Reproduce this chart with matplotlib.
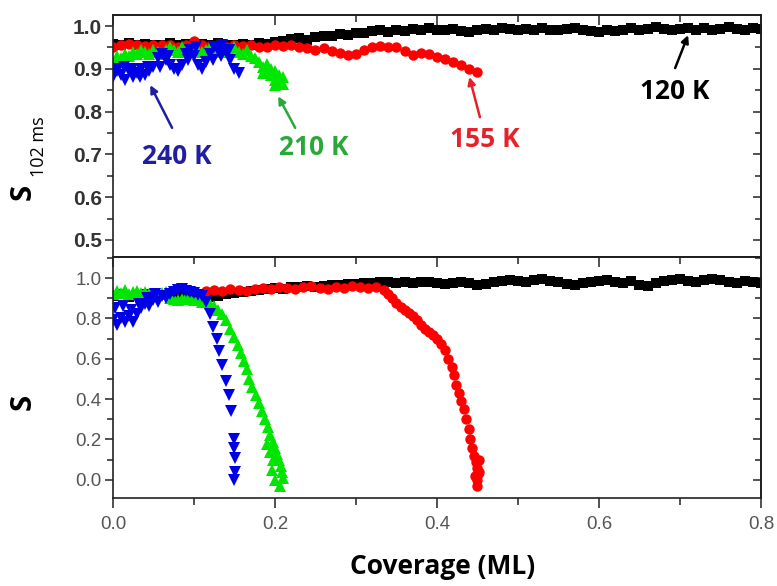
import matplotlib
matplotlib.use("Agg")
import matplotlib.pyplot as plt
from matplotlib.ticker import MultipleLocator

# ---- upper panel: S after 102 ms ----
cov_120_top = [
    0.00, 0.01, 0.02, 0.03, 0.04, 0.05, 0.06, 0.07, 0.08, 0.09,
    0.10, 0.11, 0.12, 0.13, 0.14, 0.15, 0.16, 0.17, 0.18, 0.19,
    0.20, 0.21, 0.22, 0.23, 0.24, 0.25, 0.26, 0.27, 0.28, 0.29,
    0.30, 0.31, 0.32, 0.33, 0.34, 0.35, 0.36, 0.37, 0.38, 0.39,
    0.40, 0.41, 0.42, 0.43, 0.44, 0.45, 0.46, 0.47, 0.48, 0.49,
    0.50, 0.51, 0.52, 0.53, 0.54, 0.55, 0.56, 0.57, 0.58, 0.59,
    0.60, 0.61, 0.62, 0.63, 0.64, 0.65, 0.66, 0.67, 0.68, 0.69,
    0.70, 0.71, 0.72, 0.73, 0.74, 0.75, 0.76, 0.77, 0.78, 0.79, 0.80,
]
s_120_top = [
    0.958, 0.955, 0.960, 0.956, 0.958, 0.955, 0.957, 0.960, 0.955, 0.958,
    0.956, 0.958, 0.955, 0.960, 0.957, 0.955, 0.958, 0.956, 0.960, 0.958,
    0.962, 0.966, 0.970, 0.972, 0.968, 0.975, 0.978, 0.976, 0.982, 0.980,
    0.985, 0.983, 0.988, 0.990, 0.986, 0.992, 0.989, 0.993, 0.990, 0.995,
    0.992, 0.990, 0.994, 0.989, 0.986, 0.990, 0.994, 0.992, 0.996, 0.993,
    0.990, 0.994, 0.991, 0.995, 0.992, 0.990, 0.993, 0.996, 0.990, 0.988,
    0.986, 0.990, 0.988, 0.992, 0.995, 0.990, 0.993, 0.997, 0.994, 0.990,
    0.993, 0.996, 0.992, 0.995, 0.990, 0.994, 0.997, 0.993, 0.990, 0.995, 0.993,
]

cov_155_top = [
    0.00, 0.01, 0.02, 0.03, 0.04, 0.05, 0.06, 0.07, 0.08, 0.09,
    0.10, 0.11, 0.12, 0.13, 0.14, 0.15, 0.16, 0.17, 0.18, 0.19,
    0.20, 0.21, 0.22, 0.23, 0.24, 0.25, 0.26, 0.27, 0.28, 0.29,
    0.30, 0.31, 0.32, 0.33, 0.34, 0.35, 0.36, 0.37, 0.38, 0.39,
    0.40, 0.41, 0.42, 0.43, 0.44, 0.45,
]
s_155_top = [
    0.950, 0.955, 0.958, 0.955, 0.953, 0.955, 0.957, 0.955, 0.952, 0.955,
    0.965, 0.955, 0.953, 0.955, 0.952, 0.955, 0.953, 0.955, 0.950, 0.952,
    0.955, 0.953, 0.957, 0.950, 0.948, 0.945, 0.948, 0.942, 0.938, 0.932,
    0.935, 0.945, 0.950, 0.953, 0.952, 0.950, 0.942, 0.932, 0.938, 0.935,
    0.928, 0.922, 0.915, 0.908, 0.900, 0.893,
]

cov_210_top = [
    0.000, 0.005, 0.010, 0.015, 0.020, 0.025, 0.030, 0.035, 0.040, 0.045,
    0.050, 0.055, 0.060, 0.065, 0.070, 0.075, 0.080, 0.085, 0.090, 0.095,
    0.100, 0.105, 0.110, 0.115, 0.120, 0.125, 0.130, 0.135, 0.140, 0.145,
    0.150, 0.155, 0.160, 0.165, 0.170, 0.175, 0.180, 0.185, 0.190, 0.195,
    0.200, 0.205, 0.210, 0.190, 0.195, 0.200, 0.205, 0.210, 0.200, 0.185,
]
s_210_top = [
    0.915, 0.930, 0.925, 0.935, 0.930, 0.940, 0.935, 0.945, 0.940, 0.935,
    0.945, 0.940, 0.935, 0.945, 0.950, 0.945, 0.940, 0.950, 0.945, 0.940,
    0.950, 0.945, 0.940, 0.945, 0.950, 0.940, 0.945, 0.950, 0.940, 0.945,
    0.950, 0.940, 0.935, 0.945, 0.930, 0.925, 0.915, 0.905, 0.895, 0.885,
    0.875, 0.870, 0.865, 0.912, 0.900, 0.895, 0.885, 0.880, 0.862, 0.890,
]

cov_240_top = [
    0.000, 0.005, 0.010, 0.015, 0.020, 0.025, 0.030, 0.035, 0.040, 0.045,
    0.050, 0.055, 0.060, 0.065, 0.070, 0.075, 0.080, 0.085, 0.090, 0.095,
    0.100, 0.105, 0.110, 0.115, 0.120, 0.125, 0.130, 0.135, 0.140, 0.145,
    0.150, 0.155, 0.003, 0.013, 0.023, 0.033, 0.043, 0.058, 0.068, 0.093,
    0.103, 0.123, 0.133, 0.143,
]
s_240_top = [
    0.880, 0.895, 0.885, 0.875, 0.895, 0.880, 0.890, 0.900, 0.885, 0.895,
    0.905, 0.925, 0.935, 0.920, 0.910, 0.900, 0.895, 0.910, 0.935, 0.945,
    0.930, 0.910, 0.900, 0.915, 0.935, 0.950, 0.945, 0.955, 0.940, 0.920,
    0.900, 0.890, 0.900, 0.905, 0.900, 0.880, 0.905, 0.905, 0.930, 0.920,
    0.950, 0.920, 0.930, 0.945,
]

# ---- lower panel: S ----
cov_120_bot = cov_120_top
s_120_bot = [
    0.910, 0.920, 0.905, 0.915, 0.920, 0.910, 0.915, 0.905, 0.910, 0.920,
    0.915, 0.910, 0.905, 0.910, 0.920, 0.925, 0.930, 0.935, 0.940, 0.945,
    0.950, 0.948, 0.955, 0.958, 0.960, 0.955, 0.962, 0.965, 0.968, 0.970,
    0.972, 0.975, 0.978, 0.980, 0.982, 0.978, 0.980, 0.975, 0.980, 0.982,
    0.976, 0.970, 0.978, 0.982, 0.975, 0.968, 0.972, 0.980, 0.985, 0.990,
    0.985, 0.980, 0.990, 0.995, 0.985, 0.980, 0.970, 0.965, 0.975, 0.980,
    0.985, 0.990, 0.980, 0.975, 0.985, 0.968, 0.962, 0.975, 0.985, 0.990,
    0.995, 0.985, 0.980, 0.990, 0.995, 0.990, 0.980, 0.975, 0.985, 0.980, 0.978,
]

cov_155_bot = [
    0.115, 0.125, 0.135, 0.145, 0.155, 0.165, 0.175, 0.185, 0.195, 0.205,
    0.215, 0.225, 0.235, 0.245, 0.255, 0.265, 0.275, 0.285, 0.295, 0.305,
    0.315, 0.325, 0.335, 0.340, 0.345, 0.350, 0.355, 0.360, 0.365, 0.370,
    0.375, 0.380, 0.385, 0.390, 0.395, 0.400, 0.405, 0.410, 0.414, 0.418,
    0.421, 0.424, 0.427, 0.430, 0.433, 0.436, 0.439, 0.441, 0.443, 0.446,
    0.448, 0.450, 0.451, 0.450, 0.449, 0.452, 0.452, 0.447,
]
s_155_bot = [
    0.935, 0.940, 0.935, 0.945, 0.940, 0.935, 0.945, 0.950, 0.945, 0.955,
    0.950, 0.945, 0.955, 0.960, 0.950, 0.945, 0.955, 0.950, 0.960, 0.955,
    0.950, 0.955, 0.940, 0.920, 0.900, 0.875, 0.855, 0.840, 0.825, 0.810,
    0.790, 0.770, 0.750, 0.735, 0.720, 0.700, 0.675, 0.645, 0.600, 0.560,
    0.520, 0.470, 0.430, 0.390, 0.350, 0.300, 0.250, 0.200, 0.160, 0.120,
    0.090, 0.060, 0.030, 0.000, -0.030, 0.100, 0.040, 0.020,
]

cov_210_bot = [
    0.000, 0.005, 0.010, 0.015, 0.020, 0.025, 0.030, 0.035, 0.040, 0.045,
    0.050, 0.055, 0.060, 0.065, 0.070, 0.075, 0.080, 0.085, 0.090, 0.095,
    0.100, 0.105, 0.110, 0.115, 0.120, 0.125, 0.130, 0.135, 0.140, 0.145,
    0.150, 0.154, 0.158, 0.162, 0.165, 0.168, 0.172, 0.176, 0.180, 0.184,
    0.188, 0.191, 0.194, 0.197, 0.200, 0.203, 0.205, 0.207, 0.209, 0.210,
    0.206, 0.200, 0.196, 0.198, 0.194, 0.190,
]
s_210_bot = [
    0.920, 0.935, 0.925, 0.940, 0.920, 0.930, 0.935, 0.925, 0.930, 0.920,
    0.910, 0.920, 0.925, 0.930, 0.900, 0.895, 0.890, 0.895, 0.900, 0.895,
    0.890, 0.895, 0.880, 0.880, 0.870, 0.860, 0.840, 0.820, 0.790, 0.750,
    0.710, 0.670, 0.630, 0.590, 0.550, 0.500, 0.460, 0.420, 0.380, 0.340,
    0.300, 0.260, 0.220, 0.190, 0.160, 0.130, 0.100, 0.070, 0.040, 0.010,
    -0.030, 0.000, 0.050, 0.100, 0.140, 0.180,
]

cov_240_bot = [
    0.000, 0.005, 0.010, 0.015, 0.020, 0.025, 0.030, 0.035, 0.040, 0.045,
    0.050, 0.055, 0.060, 0.065, 0.070, 0.075, 0.080, 0.085, 0.090, 0.095,
    0.100, 0.105, 0.110, 0.115, 0.002, 0.012, 0.022, 0.032, 0.042, 0.052,
    0.120, 0.124, 0.128, 0.131, 0.135, 0.139, 0.143, 0.146, 0.149, 0.150,
    0.151, 0.151, 0.150,
]
s_240_bot = [
    0.790, 0.770, 0.800, 0.780, 0.810, 0.780, 0.820, 0.850, 0.870, 0.860,
    0.890, 0.880, 0.910, 0.900, 0.920, 0.930, 0.940, 0.945, 0.935, 0.930,
    0.925, 0.915, 0.910, 0.880, 0.850, 0.860, 0.840, 0.870, 0.900, 0.920,
    0.820, 0.760, 0.700, 0.640, 0.570, 0.490, 0.420, 0.340, 0.200, 0.160,
    0.110, 0.040, 0.000,
]

labels = ["120 K", "155 K", "210 K", "240 K"]
marker_colors = ["#000000", "#ff0000", "#00e600", "#0000e6"]
text_colors = ["#000000", "#e8202a", "#2aa83a", "#1f1fa0"]

fig = plt.figure(figsize=(7.77, 5.86), dpi=100)
ax_top = fig.add_axes([0.1454, 0.5614, 0.834, 0.413])
ax_bot = fig.add_axes([0.1454, 0.1502, 0.834, 0.411])

top_series = [
    (cov_120_top, s_120_top, "s", 6.5),
    (cov_155_top, s_155_top, "o", 7.5),
    (cov_210_top, s_210_top, "^", 8.5),
    (cov_240_top, s_240_top, "v", 8.5),
]
bot_series = [
    (cov_120_bot, s_120_bot, "s", 6.5),
    (cov_155_bot, s_155_bot, "o", 7.5),
    (cov_210_bot, s_210_bot, "^", 8.5),
    (cov_240_bot, s_240_bot, "v", 9.0),
]

for ax, series in [(ax_top, top_series), (ax_bot, bot_series)]:
    for (x, y, m, ms), c in zip(series, marker_colors):
        ax.plot(x, y, linestyle="none", marker=m, markersize=ms,
                color=c, markeredgewidth=0)

ax_top.set_xlim(0, 0.8)
ax_top.set_ylim(0.46, 1.026)
ax_bot.set_xlim(0, 0.8)
ax_bot.set_ylim(-0.09, 1.104)

for ax, major, minor in [(ax_top, 0.1, 0.05), (ax_bot, 0.2, 0.1)]:
    for sp in ax.spines.values():
        sp.set_linewidth(1.2)
        sp.set_color("#222222")
    ax.yaxis.set_major_locator(MultipleLocator(major))
    ax.yaxis.set_minor_locator(MultipleLocator(minor))
    ax.xaxis.set_major_locator(MultipleLocator(0.2))
    ax.xaxis.set_minor_locator(MultipleLocator(0.1))
    ax.tick_params(axis="y", which="both", direction="out", width=1.1,
                   color="#222222", pad=2)
    ax.tick_params(axis="y", which="major", length=6)
    ax.tick_params(axis="y", which="minor", length=4)

    right = ax.secondary_yaxis("right")
    right.yaxis.set_major_locator(MultipleLocator(major))
    right.yaxis.set_minor_locator(MultipleLocator(minor))
    right.tick_params(which="both", direction="in", labelright=False,
                      width=1.1, color="#222222")
    right.tick_params(which="major", length=6)
    right.tick_params(which="minor", length=4)
    right.spines["right"].set_linewidth(1.2)

    top = ax.secondary_xaxis("top")
    top.xaxis.set_major_locator(MultipleLocator(0.2))
    top.xaxis.set_minor_locator(MultipleLocator(0.1))
    top.tick_params(which="both", direction="in", labeltop=False,
                    width=1.1, color="#222222")
    top.tick_params(which="major", length=7)
    top.tick_params(which="minor", length=5)
    top.spines["top"].set_linewidth(1.2)

ax_top.tick_params(axis="x", which="both", bottom=False, labelbottom=False)
ax_top.set_yticklabels([f"{v:.1f}" for v in ax_top.get_yticks()],
                       fontsize=15, fontweight="bold", color="#333333",
                       family="Liberation Sans")
ax_top.set_ylim(0.46, 1.026)

ax_bot.tick_params(axis="x", which="both", direction="out", width=1.1,
                   color="#222222", pad=6)
ax_bot.tick_params(axis="x", which="major", length=7)
ax_bot.tick_params(axis="x", which="minor", length=5)
for lab in ax_bot.get_xticklabels() + ax_bot.get_yticklabels():
    lab.set_fontsize(13.5)
    lab.set_color("#555555")
    lab.set_family("Liberation Sans")
ax_bot.xaxis.set_major_formatter(lambda v, pos: f"{v:.1f}")
ax_bot.yaxis.set_major_formatter(lambda v, pos: f"{v:.1f}")

# temperature labels with arrows (upper panel)
notes = [
    ("120 K", (0.693, 0.846), (0.694, 0.902), (0.710, 0.979)),
    ("155 K", (0.459, 0.734), (0.453, 0.787), (0.440, 0.881)),
    ("210 K", (0.248, 0.717), (0.225, 0.762), (0.204, 0.836)),
    ("240 K", (0.079, 0.694), (0.073, 0.762), (0.046, 0.862)),
]
for (txt, pos, tail, head), c in zip(notes, text_colors):
    ax_top.text(pos[0], pos[1], txt, color=c, fontsize=19, fontweight="bold",
                family="Open Sans", ha="center", va="center")
    ax_top.annotate("", xy=head, xytext=tail,
                    arrowprops=dict(arrowstyle="-|>", color=c, lw=1.8,
                                    mutation_scale=11, shrinkA=0, shrinkB=0))

fig.text(0.030, 0.672, "S", rotation=90, fontsize=21, fontweight="bold",
         family="Open Sans", ha="center", va="center")
fig.text(0.050, 0.750, "102 ms", rotation=90, fontsize=13,
         family="Open Sans", ha="center", va="center")
fig.text(0.030, 0.314, "S", rotation=90, fontsize=21, fontweight="bold",
         family="Open Sans", ha="center", va="center")
fig.text(0.569, 0.034, "Coverage (ML)", fontsize=19, fontweight="bold",
         family="Open Sans", ha="center", va="center")

fig.savefig("out.png", dpi=100)
